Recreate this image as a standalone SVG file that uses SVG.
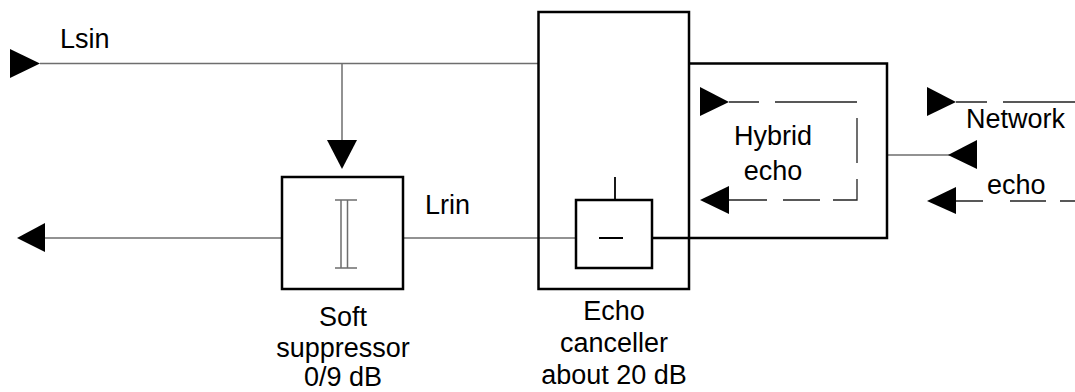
<svg xmlns="http://www.w3.org/2000/svg" width="1075" height="392" viewBox="0 0 1075 392">
<style>
.box{fill:none;stroke:#000;stroke-width:2.5}
.ln{fill:none;stroke:#6e6e6e;stroke-width:1.5}
.dk{fill:none;stroke:#222;stroke-width:1.3}
.ah{fill:#000;stroke:none}
text{font-family:"Liberation Sans",Arial,sans-serif;font-size:27px;fill:#000}
.m{text-anchor:middle}
</style>
<rect width="1075" height="392" fill="#fff"/>
<g id="connectors">
<line class="ln" x1="40" y1="63.5" x2="538" y2="63.5"/>
<line class="ln" x1="342" y1="63.5" x2="342" y2="145"/>
<line class="ln" x1="40" y1="238" x2="282" y2="238"/>
<line class="ln" x1="403" y1="238" x2="576" y2="238"/>
<line class="ln" x1="887" y1="155" x2="950" y2="155"/>
<polygon class="ah" points="10,49 40,63.5 10,78"/>
<polygon class="ah" points="327,140 357,140 342,169"/>
<polygon class="ah" points="17,238 45,223 45,252"/>
<polygon class="ah" points="948,155 977,140 977,169"/>
</g>
<g id="soft-suppressor">
<rect class="box" x="282" y="177" width="121" height="112"/>
<path class="ln" stroke-width="1" d="M341,200V268M347.5,200V268M335,200H357M335,268H357"/>
<text class="m" x="343" y="326">Soft</text>
<text class="m" x="343" y="357">suppressor</text>
<text class="m" x="343" y="386">0/9 dB</text>
</g>
<g id="echo-canceller">
<rect class="box" x="538.5" y="12" width="150.5" height="277"/>
<rect class="box" x="576" y="200" width="76" height="68"/>
<line stroke="#000" stroke-width="1.8" x1="615" y1="177" x2="615" y2="200"/>
<line stroke="#000" stroke-width="2" x1="599" y1="238" x2="623" y2="238"/>
<text class="m" x="614" y="320">Echo</text>
<text class="m" x="614" y="352">canceller</text>
<text class="m" x="614" y="384">about 20 dB</text>
</g>
<g id="hybrid">
<path class="box" d="M689,63.5H887V238H652"/>
<path class="dk" d="M729,102H759M775,102H857V102M857,118V163M857,179V200H833M820,200H783M767,200H729"/>
<polygon class="ah" points="700,87 729,102 700,116"/>
<polygon class="ah" points="700,200 729,186 729,214"/>
<text class="m" x="773" y="145">Hybrid</text>
<text class="m" x="773" y="180">echo</text>
</g>
<g id="network">
<path class="dk" d="M956,102H987M1003,102H1075"/>
<polygon class="ah" points="927,87 956,102 927,116"/>
<text x="966" y="128">Network</text>
<path class="dk" d="M956,201H983M1010,201H1046M1060,201H1075"/>
<polygon class="ah" points="927,201 956,187 956,214"/>
<text x="987" y="194">echo</text>
</g>
<g id="labels">
<text x="60" y="48">Lsin</text>
<text x="425" y="214">Lrin</text>
</g>
</svg>
